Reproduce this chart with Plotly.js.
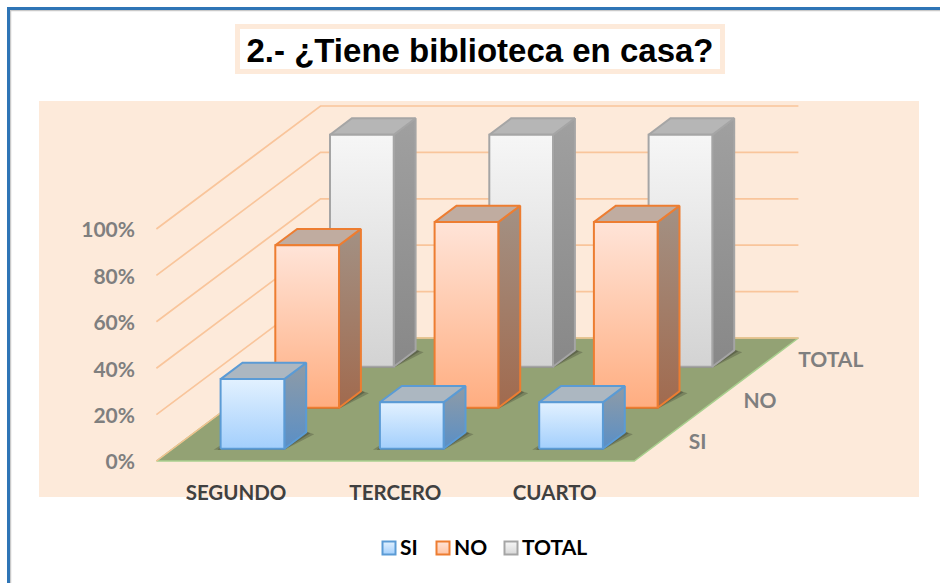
<!DOCTYPE html>
<html>
<head>
<meta charset="utf-8">
<script src="https://cdn.plot.ly/plotly-3.0.1.min.js"></script>
<style>html,body{margin:0;padding:0;background:#fff}#c{width:940px;height:583px}</style>
</head>
<body>
<div id="c"></div>
<script>
var categories = ['SEGUNDO', 'TERCERO', 'CUARTO'];
var seriesNames = ['SI', 'NO', 'TOTAL'];
var siValues = [30, 20, 20];
var noValues = [70, 80, 80];
var totalValues = [100, 100, 100];
var percentTicks = [0, 20, 40, 60, 80, 100];
var percentLabels = ['0%', '20%', '40%', '60%', '80%', '100%'];

var allValues = [siValues, noValues, totalValues];
var palettes = [
  {line:'#5b9bd5', front:['#e2f1ff','#a3cffc'], side:['#8f9ba6','#5a8fc6'], top:'#acb7c1', legend:['#e2f1ff','#a3cffc']},
  {line:'#ed7d31', front:['#ffe4d8','#ffad80'], side:['#a39184','#a16a4e'], top:'#c0aca0', legend:['#ffe4d8','#ffc4a4']},
  {line:'#a5a5a5', front:['#f6f6f6','#d3d3d3'], side:['#a0a0a0','#888888'], top:'#b6b6b6', legend:['#f6f6f6','#d8d8d8']}
];

// oblique projection of (category, series, percent) onto the hidden page-sized axes
function project(u, w, v) {
  return [156.4 + 159.3 * u + 54.7 * w, 461 - 41 * w - 2.32 * v];
}
function poly(corners, opts) {
  var xs = corners.map(function(c){return c[0];});
  var ys = corners.map(function(c){return c[1];});
  xs.push(xs[0]); ys.push(ys[0]);
  var t = {type:'scatter', mode:'lines', x:xs, y:ys, fill:'toself', hoverinfo:'skip', showlegend:false,
    line:{color:opts.line || 'rgba(0,0,0,0)', width:opts.width === undefined ? 2 : opts.width, shape:'linear'}};
  if (opts.gradient) {
    var lo = Math.min.apply(null, ys), hi = Math.max.apply(null, ys);
    t.fillgradient = {type:'vertical', start:lo, stop:hi,
      colorscale:[[0, opts.gradient[0]], [1, opts.gradient[1]]]};
  } else {
    t.fillcolor = opts.fill;
  }
  return t;
}

var traces = [];
// floor
traces.push(poly([project(0,0,0), project(3,0,0), project(3,3,0), project(0,3,0)],
  {fill:'#93a274', line:'#a9cf8e', width:1.5}));

// gridlines on the two walls
percentTicks.forEach(function(v){
  if (v === 0) return;
  var a = project(0,0,v), b = project(0,3,v), c = project(3,3,v);
  traces.push({type:'scatter', mode:'lines', x:[a[0],b[0],c[0]], y:[a[1],b[1],c[1]],
    hoverinfo:'skip', showlegend:false, line:{color:'#f9c59b', width:1.7}});
});
[[project(0,0,0), project(0,3,0), project(3,3,0)]].forEach(function(p){
  traces.push({type:'scatter', mode:'lines', x:p.map(function(q){return q[0];}), y:p.map(function(q){return q[1];}),
    hoverinfo:'skip', showlegend:false, line:{color:'#f4c08f', width:1.5}});
});

// bars, back to front
var half = 0.2;
for (var s = seriesNames.length - 1; s >= 0; s--) {
  for (var i = 0; i < categories.length; i++) {
    var v = allValues[s][i], pal = palettes[s];
    var u0 = i + 0.5 - half, u1 = i + 0.5 + half, w0 = s + 0.5 - half, w1 = s + 0.5 + half;
    var fl0 = project(u0,w0,0), fr0 = project(u1,w0,0), br0 = project(u1,w1,0), bl0 = project(u0,w1,0);
    var fl1 = project(u0,w0,v), fr1 = project(u1,w0,v), br1 = project(u1,w1,v), bl1 = project(u0,w1,v);
    // soft contact shadow
    traces.push(poly([[fl0[0]-7,fl0[1]+1],[fr0[0],fr0[1]+1],[br0[0]+8,br0[1]+2],[br0[0]-4,br0[1]-2],[fl0[0]+4,fl0[1]-6]],
      {fill:'rgba(50,50,40,0.28)', width:0}));
    traces.push(poly([[fl0[0]-3,fl0[1]+1],[fr0[0],fr0[1]+1],[br0[0]+4,br0[1]+1],[br0[0]-4,br0[1]-2],[fl0[0]+4,fl0[1]-6]],
      {fill:'rgba(50,50,40,0.35)', width:0}));
    traces.push(poly([fr0, br0, br1, fr1], {gradient:pal.side, line:pal.line}));
    traces.push(poly([fl1, fr1, br1, bl1], {fill:pal.top, line:pal.line}));
    traces.push(poly([fl0, fr0, fr1, fl1], {gradient:pal.front, line:pal.line}));
  }
}

// series labels along the right floor edge
traces.push({type:'scatter', mode:'text', hoverinfo:'skip', showlegend:false, cliponaxis:false,
  x: seriesNames.map(function(n,j){return project(3.17, j+0.5, 0)[0];}),
  y: seriesNames.map(function(n,j){return project(3.17, j+0.5, 0)[1] + 3;}),
  text: seriesNames, textposition:'middle right',
  textfont:{family:'Lato', size:21, color:'#7f7f7f', weight:700}});

// legend row
var legendX = [389, 443, 511];
seriesNames.forEach(function(n,j){
  traces.push({type:'scatter', mode:'markers', hoverinfo:'skip', showlegend:false, cliponaxis:false,
    x:[legendX[j]], y:[548],
    marker:{symbol:'square', size:13, color:palettes[j].legend[0],
      gradient:{type:'vertical', color:palettes[j].legend[1]},
      line:{color:palettes[j].line, width:2}}});
  traces.push({type:'scatter', mode:'text', hoverinfo:'skip', showlegend:false, cliponaxis:false,
    x:[legendX[j] + 11], y:[550], text:[n], textposition:'middle right',
    textfont:{family:'Lato', size:21, color:'#000000', weight:700}});
});

var layout = {
  width:940, height:583, margin:{l:0,r:0,t:0,b:0,pad:0},
  paper_bgcolor:'#ffffff', plot_bgcolor:'rgba(0,0,0,0)', showlegend:false,
  title:{text:'2.- ¿Tiene biblioteca en casa?', x:480/940, xanchor:'center', y:1-50/583, yanchor:'middle', yref:'container',
    font:{family:'Liberation Sans', size:33, color:'#000000', weight:700}},
  xaxis:{range:[0,940], anchor:'free', position:1-478/583, showgrid:false, zeroline:false, showline:false, ticks:'',
    tickmode:'array', tickvals:categories.map(function(c,i){return project(i+0.5,0,0)[0];}), ticktext:categories,
    tickfont:{family:'Lato', size:20.5, color:'#404040', weight:700}, fixedrange:true},
  yaxis:{range:[583,0], anchor:'free', position:135/940, showgrid:false, zeroline:false, showline:false, ticks:'',
    tickmode:'array', tickvals:percentTicks.map(function(v){return project(0,0,v)[1] + 1;}), ticktext:percentLabels,
    tickfont:{family:'Lato', size:21, color:'#7f7f7f', weight:700}, fixedrange:true},
  shapes:[
    {type:'rect', layer:'below', xref:'paper', yref:'paper', x0:39/940, x1:919/940, y0:1-497/583, y1:1-101/583, fillcolor:'#fdeada', line:{width:0}},
    {type:'rect', layer:'below', xref:'paper', yref:'paper', x0:237.5/940, x1:722.5/940, y0:1-71.5/583, y1:1-26.5/583, fillcolor:'#ffffff', line:{color:'#fdeada', width:5}},
    {type:'line', layer:'below', xref:'paper', yref:'paper', x0:10.5/940, x1:10.5/940, y0:0, y1:1-10/583, line:{color:'#c9c9c9', width:1.5}},
    {type:'line', layer:'below', xref:'paper', yref:'paper', x0:10/940, x1:1, y0:1-10.5/583, y1:1-10.5/583, line:{color:'#c9c9c9', width:1.5}},
    {type:'line', layer:'below', xref:'paper', yref:'paper', x0:8.5/940, x1:8.5/940, y0:0, y1:1-7/583, line:{color:'#2e75b6', width:3}},
    {type:'line', layer:'below', xref:'paper', yref:'paper', x0:7/940, x1:1, y0:1-8.5/583, y1:1-8.5/583, line:{color:'#2e75b6', width:3}}
  ]
};
Plotly.newPlot('c', traces, layout, {staticPlot:true, displayModeBar:false});
</script>
</body>
</html>
